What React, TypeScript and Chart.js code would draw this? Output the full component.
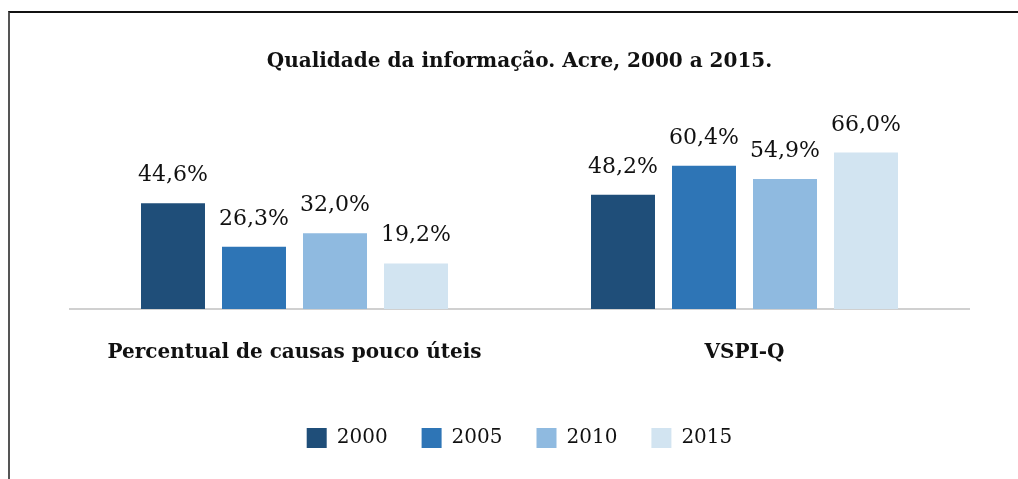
import React, { useEffect, useRef } from "react";
import { Chart, registerables } from "chart.js";

Chart.register(...registerables);

const categories = ["Percentual de causas pouco úteis", "VSPI-Q"];
const seriesLabels = ["2000", "2005", "2010", "2015"];
const values2000 = [44.6, 48.2];
const values2005 = [26.3, 60.4];
const values2010 = [32.0, 54.9];
const values2015 = [19.2, 66.0];
const colors = ["#1F4E79", "#2E75B6", "#8FBAE0", "#D2E4F1"];
const titleText = "Qualidade da informação. Acre, 2000 a 2015.";

const FONT = "'DejaVu Serif', 'Liberation Serif', serif";

const valueLabels = {
  id: "valueLabels",
  afterDatasetsDraw(chart: any) {
    const ctx = chart.ctx;
    ctx.save();
    ctx.font = `22px ${FONT}`;
    ctx.fillStyle = "#111";
    ctx.textAlign = "center";
    ctx.textBaseline = "alphabetic";
    chart.data.datasets.forEach((ds: any, di: number) => {
      const meta = chart.getDatasetMeta(di);
      meta.data.forEach((bar: any, i: number) => {
        const v = ds.data[i];
        const txt = v.toFixed(1).replace(".", ",") + "%";
        ctx.fillText(txt, bar.x, bar.y - 22);
      });
    });
    ctx.restore();
  },
};

export default function App() {
  const ref = useRef<HTMLCanvasElement>(null);
  useEffect(() => {
    const datasets = [values2000, values2005, values2010, values2015].map((d, i) => ({
      label: seriesLabels[i],
      data: d,
      backgroundColor: colors[i],
      borderWidth: 0,
      barPercentage: 0.79,
      categoryPercentage: 0.72,
    }));
    const chart = new Chart(ref.current!, {
      type: "bar",
      data: { labels: categories, datasets },
      plugins: [valueLabels],
      options: {
        animation: false,
        responsive: false,
        maintainAspectRatio: false,
        layout: { padding: { left: 69.5, right: 48.5, top: 0, bottom: 21 } },
        plugins: {
          tooltip: { enabled: false },
          title: {
            display: true,
            text: titleText,
            color: "#111",
            font: { family: FONT, size: 20, weight: "bold", lineHeight: 1.2 },
            padding: { top: 50, bottom: 45.4 },
          },
          legend: {
            position: "bottom",
            labels: {
              boxWidth: 20,
              boxHeight: 20,
              padding: 34,
              color: "#111",
              font: { family: FONT, size: 20 },
            },
          },
        },
        scales: {
          x: {
            grid: {
              display: true,
              drawOnChartArea: false,
              drawTicks: true,
              tickLength: 3,
              color: "rgba(0,0,0,0)",
            },
            border: { display: true, color: "#d0d0d0", width: 2 },
            ticks: {
              padding: 10,
              color: "#111",
              font: { family: FONT, size: 20, weight: "bold", lineHeight: 3.1 },
            },
          },
          y: {
            display: false,
            min: 0,
            max: 80,
          },
        },
      },
    });
    return () => chart.destroy();
  }, []);
  return (
    <div style={{ position: "fixed", left: 0, top: 0, width: 1018, height: 479, overflow: "hidden", background: "#fff" }}>
      <div
        style={{
          position: "absolute",
          left: 8,
          top: 11,
          width: 1040,
          height: 500,
          borderTop: "2px solid #111",
          borderLeft: "2px solid #555",
        }}
      />
      <canvas ref={ref} width={1018} height={479} style={{ position: "absolute", left: 0, top: 0 }} />
    </div>
  );
}
